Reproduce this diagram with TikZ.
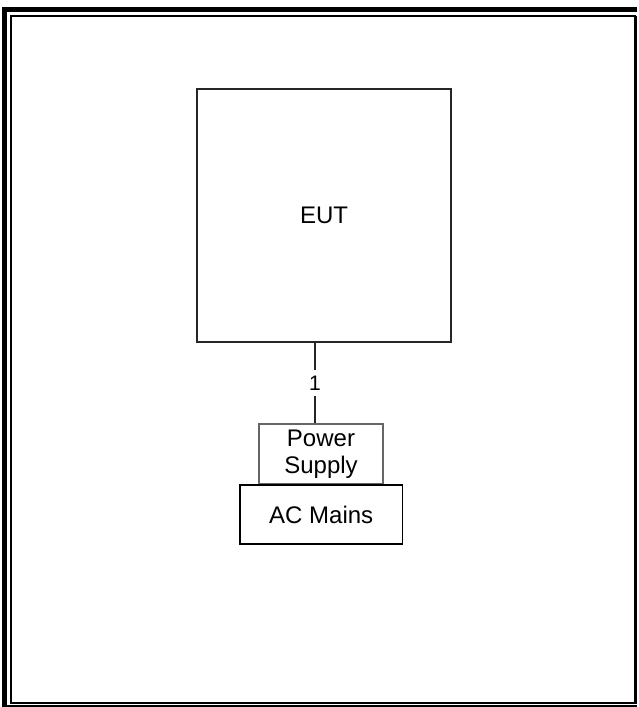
\documentclass[tikz,border=0pt]{standalone}
\usepackage{fontspec}
\setmainfont{Liberation Sans}
\usepackage{tikz}
\usetikzlibrary{positioning}
\tikzset{
  unitbox/.style={draw=black!85, line width=1.5pt, fill=white, align=center,
                  font=\fontsize{24}{28}\selectfont, inner sep=0pt},
  supplybox/.style={draw=black!60, line width=2.2pt, fill=white, align=center,
                    font=\fontsize{24}{27}\selectfont, inner sep=0pt},
  cablelabel/.style={fill=white, inner xsep=2pt, inner ysep=6pt,
                     font=\fontsize{21}{21}\selectfont},
  cable/.style={draw=black!85, line width=1.7pt}
}

\begin{document}
\begin{tikzpicture}[x=1pt, y=-1pt]
  \useasboundingbox (0,0) rectangle (638,707);
  % page frame
  \fill[black] (2,7) rectangle (7,707);
  \fill[black] (2,7) rectangle (637,12);
  \draw[line width=1.3pt] (7,706) -- (637,706);
  \draw[line width=1.7pt] (10.8,15.8) rectangle (635.5,702.8);
  \draw[line width=2.4pt] (635.5,15.8) -- (635.5,703.6);

  \node[unitbox, minimum width=254pt, minimum height=253pt] (eut) at (324,215.5) {EUT};
  \node[supplybox, minimum width=124pt, minimum height=60pt] (psu) at (321,454) {\raisebox{-2pt}{\parbox{120pt}{\centering Power\\Supply}}};
  \node[unitbox, minimum width=162.5pt, minimum height=59pt, draw=black] (mains) at (321.2,514.5) {AC Mains};

  \coordinate (tap) at (315,0);
  \draw[cable] (eut.south -| tap) -- node[cablelabel]{1} (psu.north -| tap);
\end{tikzpicture}
\end{document}
